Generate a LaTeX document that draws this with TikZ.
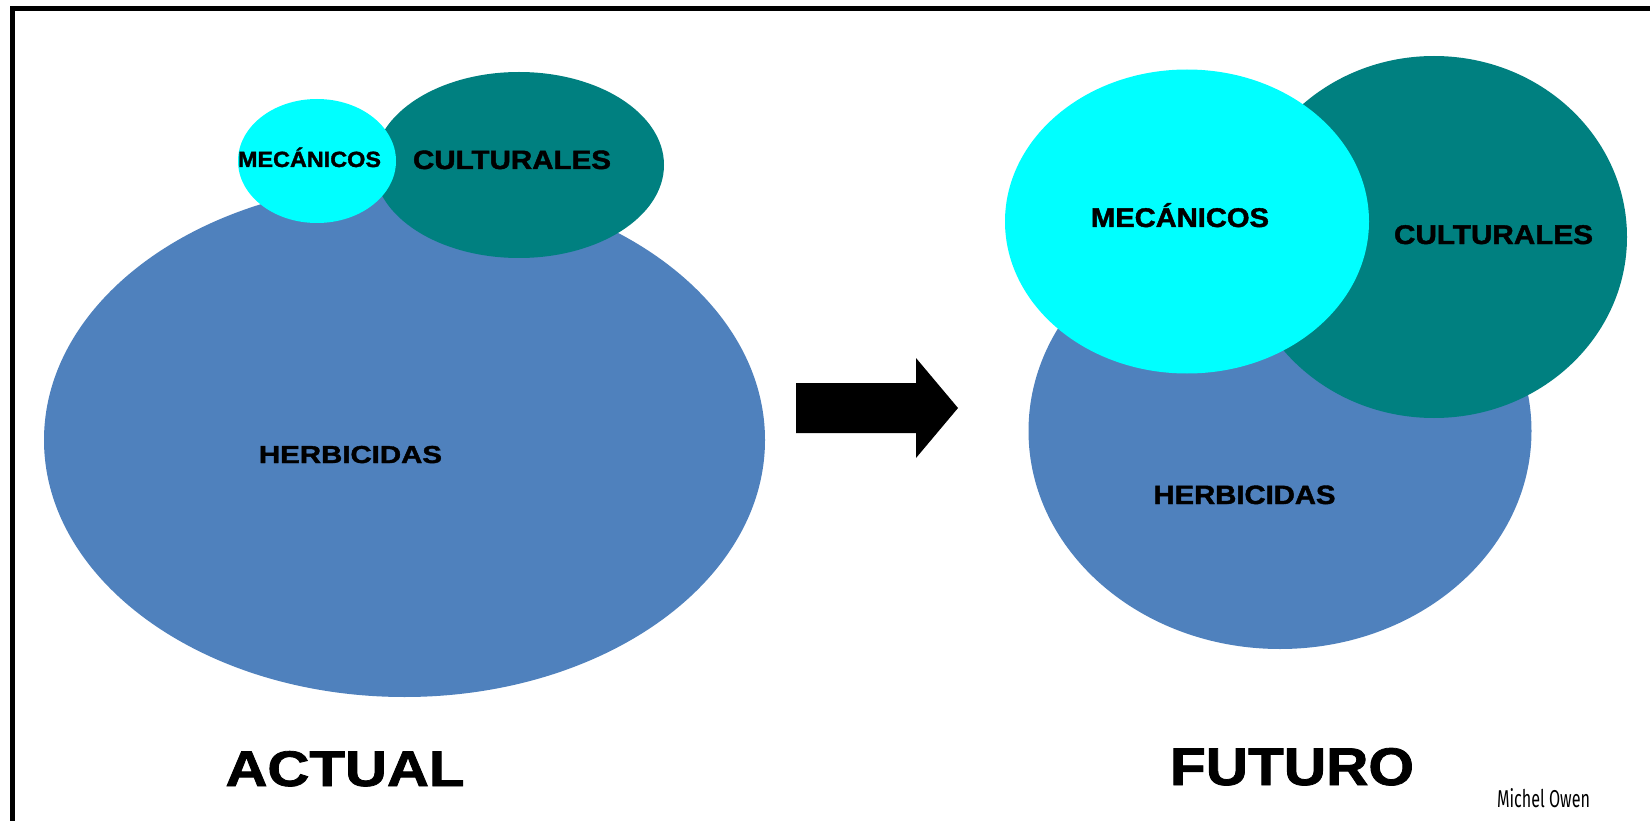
\documentclass[tikz,border=0pt]{standalone}
\usepackage{fontspec}
\usepackage{graphicx}
\setmainfont{Liberation Sans}
\newfontfamily\blk[FakeBold=1.5]{Liberation Sans Bold}
\newfontfamily\sig{Fira Sans}
\usetikzlibrary{shapes.geometric}
\definecolor{herb}{RGB}{79,129,189}
\definecolor{cult}{RGB}{0,128,128}
\definecolor{meca}{RGB}{0,255,255}
\newcommand\wt[3]{\fontsize{#1}{#1}\selectfont\resizebox{#2pt}{\height}{#3}}
\tikzset{
  blob/.style={ellipse, inner sep=0pt, draw=none},
  lbl/.style={inner sep=0pt, anchor=base, font=\blk},
}
\begin{document}
\begin{tikzpicture}[x=1pt,y=-1pt]
\useasboundingbox (0,0) rectangle (1650,821);
\fill[white] (0,0) rectangle (1650,821);
% frame (left and top edges)
\draw[line width=5pt, miter limit=10] (12.5,821) -- (12.5,8.5) -- (1650,8.5);
% ACTUAL
\node[blob, fill=herb, minimum width=721pt, minimum height=514pt] (lherb) at (404.5,440) {};
\node[blob, fill=cult, minimum width=290pt, minimum height=186pt] (lcult) at (519,165) {};
\node[blob, fill=meca, minimum width=158pt, minimum height=124pt] (lmeca) at (317,161) {};
\node[lbl] (tlmeca) at (309.5,167) {\wt{22}{143}{MECÁNICOS}};
\node[lbl] (tlcult) at (512,169) {\wt{26.5}{198}{CULTURALES}};
\node[lbl] (tlherb) at (350.5,463) {\wt{24.5}{183}{HERBICIDAS}};
% arrow
\fill (796,383) -- (916,383) -- (916,358) -- (958,408) -- (916,458) -- (916,433) -- (796,433) -- cycle;
% FUTURO
\node[blob, fill=herb, minimum width=503pt, minimum height=436pt] (rherb) at (1280,431) {};
\node[blob, fill=cult, minimum width=386pt, minimum height=362pt] (rcult) at (1434,237) {};
\node[blob, fill=meca, minimum width=364pt, minimum height=304pt] (rmeca) at (1187,221.5) {};
\node[lbl] (trmeca) at (1180,227) {\wt{27}{178}{MECÁNICOS}};
\node[lbl] (trcult) at (1493.5,244) {\wt{27}{199}{CULTURALES}};
\node[lbl] (trherb) at (1244.5,504) {\wt{26.5}{182}{HERBICIDAS}};
% titles
\node[lbl] (actual) at (345,786) {\wt{50}{239}{ACTUAL}};
\node[lbl] (futuro) at (1292,785) {\wt{53}{244}{FUTURO}};
\node[inner sep=0pt, anchor=base, font=\sig] (author) at (1543.5,807) {\fontsize{20}{20}\selectfont\resizebox{93pt}{19pt}{Michel Owen}};
\end{tikzpicture}
\end{document}
